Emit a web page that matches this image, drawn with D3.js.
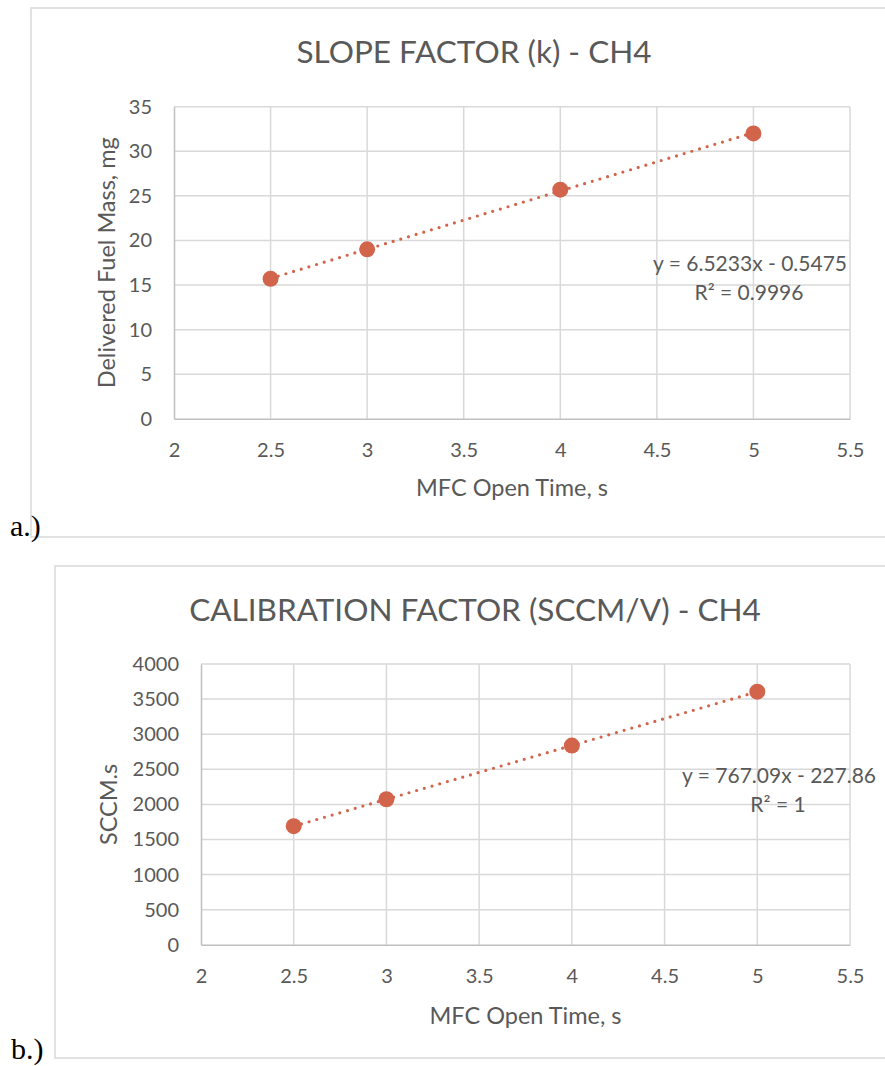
<!DOCTYPE html>
<html>
<head>
<meta charset="utf-8">
<script src="https://cdn.jsdelivr.net/npm/d3@7"></script>
<style>
  body { margin: 0; background: #fff; }
  svg text { font-family: Lato, "Open Sans", sans-serif; fill: #595959; }
</style>
</head>
<body>
<div id="chart"></div>
<script>
// data
var xTicks = [2, 2.5, 3, 3.5, 4, 4.5, 5, 5.5];

var timeA = [2.5, 3, 4, 5];
var massA = [15.7, 19.0, 25.7, 32.0];
var yTicksA = [0, 5, 10, 15, 20, 25, 30, 35];

var timeB = [2.5, 3, 4, 5];
var flowB = [1690, 2073, 2838, 3606];
var yTicksB = [0, 500, 1000, 1500, 2000, 2500, 3000, 3500, 4000];

var orange = "#d1644a";

var svg = d3.select("#chart").append("svg")
  .attr("width", 885)
  .attr("height", 1066);

svg.append("rect").attr("width", 885).attr("height", 1066).attr("fill", "#fff");

// least squares fit for the trend line
function fit(xs, ys) {
  var n = xs.length;
  var mx = d3.mean(xs), my = d3.mean(ys);
  var sxy = 0, sxx = 0;
  for (var i = 0; i < n; i++) {
    sxy += (xs[i] - mx) * (ys[i] - my);
    sxx += (xs[i] - mx) * (xs[i] - mx);
  }
  var m = sxy / sxx;
  return { m: m, b: my - m * mx };
}

function drawChart(o) {
  var g = svg.append("g");

  // chart frame
  g.append("rect")
    .attr("x", o.box[0]).attr("y", o.box[1])
    .attr("width", o.box[2]).attr("height", o.box[3])
    .attr("fill", "none").attr("stroke", "#d9d9d9").attr("stroke-width", 1.5);

  g.append("text")
    .attr("x", o.tagX).attr("y", o.tagY)
    .style("font-family", "'Liberation Serif', 'Times New Roman', serif")
    .style("font-size", "30px").style("fill", "#000")
    .text(o.tag);

  var x = d3.scaleLinear().domain([2, 5.5]).range([o.plot[0], o.plot[1]]);
  var y = d3.scaleLinear().domain([0, o.yMax]).range([o.plot[3], o.plot[2]]);

  // grid
  g.selectAll(".vg").data(xTicks.slice(1)).enter().append("line")
    .attr("x1", d => x(d)).attr("x2", d => x(d))
    .attr("y1", y(0)).attr("y2", y(o.yMax))
    .attr("stroke", "#d9d9d9").attr("stroke-width", 1.5);
  g.selectAll(".hg").data(o.yTicks.slice(1)).enter().append("line")
    .attr("x1", x(2)).attr("x2", x(5.5))
    .attr("y1", d => y(d)).attr("y2", d => y(d))
    .attr("stroke", "#d9d9d9").attr("stroke-width", 1.5);

  // axes
  var xAxis = g.append("g").attr("transform", "translate(0," + y(0) + ")")
    .call(d3.axisBottom(x).tickValues(xTicks).tickSize(0).tickPadding(24).tickFormat(d3.format("")));
  var yAxis = g.append("g").attr("transform", "translate(" + x(2) + ",0)")
    .call(d3.axisLeft(y).tickValues(o.yTicks).tickSize(0).tickPadding(22).tickFormat(d3.format("")));
  [xAxis, yAxis].forEach(function (a) {
    a.select(".domain").attr("stroke", "#bfbfbf").attr("stroke-width", 1.5);
    a.selectAll("text").style("font-family", "Lato, sans-serif").style("font-size", "20px").attr("fill", "#595959");
  });

  // titles
  g.append("text")
    .attr("x", o.titleX).attr("y", o.titleY)
    .attr("text-anchor", "middle")
    .style("font-size", "31.5px")
    .text(o.title);

  g.append("text")
    .attr("x", (o.plot[0] + o.plot[1]) / 2).attr("y", o.xLabelY)
    .attr("text-anchor", "middle")
    .style("font-size", "23.5px")
    .text("MFC Open Time, s");

  g.append("text")
    .attr("transform", "translate(" + o.yLabelX + "," + (o.plot[2] + o.plot[3]) / 2 + ") rotate(-90)")
    .attr("text-anchor", "middle")
    .style("font-size", "23.5px")
    .text(o.yLabel);

  // trend line
  var f = fit(o.xs, o.ys);
  var x0 = d3.min(o.xs), x1 = d3.max(o.xs);
  g.append("line")
    .attr("x1", x(x0)).attr("y1", y(f.m * x0 + f.b))
    .attr("x2", x(x1)).attr("y2", y(f.m * x1 + f.b))
    .attr("stroke", orange).attr("stroke-width", 3.2)
    .attr("stroke-linecap", "round")
    .attr("stroke-dasharray", "0 8");

  // points
  g.selectAll(".pt").data(o.xs).enter().append("circle")
    .attr("cx", d => x(d))
    .attr("cy", (d, i) => y(o.ys[i]))
    .attr("r", 8)
    .attr("fill", orange);

  // equation
  g.append("text")
    .attr("x", o.eqX).attr("y", o.eqY)
    .attr("text-anchor", "end")
    .style("font-size", "21px")
    .text(o.eq);
  g.append("text")
    .attr("x", o.r2X).attr("y", o.eqY + 29)
    .attr("text-anchor", "middle")
    .style("font-size", "21px")
    .text(o.r2);
}

drawChart({
  box: [31, 8, 870, 529],
  tag: "a.)", tagX: 10, tagY: 536,
  plot: [174, 850, 106.7, 418.8],
  yMax: 35,
  yTicks: yTicksA,
  xs: timeA, ys: massA,
  title: "SLOPE FACTOR (k) - CH4",
  titleX: 474, titleY: 63,
  xLabelY: 496,
  yLabel: "Delivered Fuel Mass, mg",
  yLabelX: 115,
  eq: "y = 6.5233x - 0.5475",
  eqX: 847, eqY: 271,
  r2: "R\u00b2 = 0.9996", r2X: 749
});

drawChart({
  box: [55, 566, 850, 492],
  tag: "b.)", tagX: 11, tagY: 1059,
  plot: [201, 850, 664, 944.8],
  yMax: 4000,
  yTicks: yTicksB,
  xs: timeB, ys: flowB,
  title: "CALIBRATION FACTOR (SCCM/V) - CH4",
  titleX: 475, titleY: 621,
  xLabelY: 1024,
  yLabel: "SCCM.s",
  yLabelX: 117,
  eq: "y = 767.09x - 227.86",
  eqX: 876, eqY: 783,
  r2: "R\u00b2 = 1", r2X: 778
});
</script>
</body>
</html>
